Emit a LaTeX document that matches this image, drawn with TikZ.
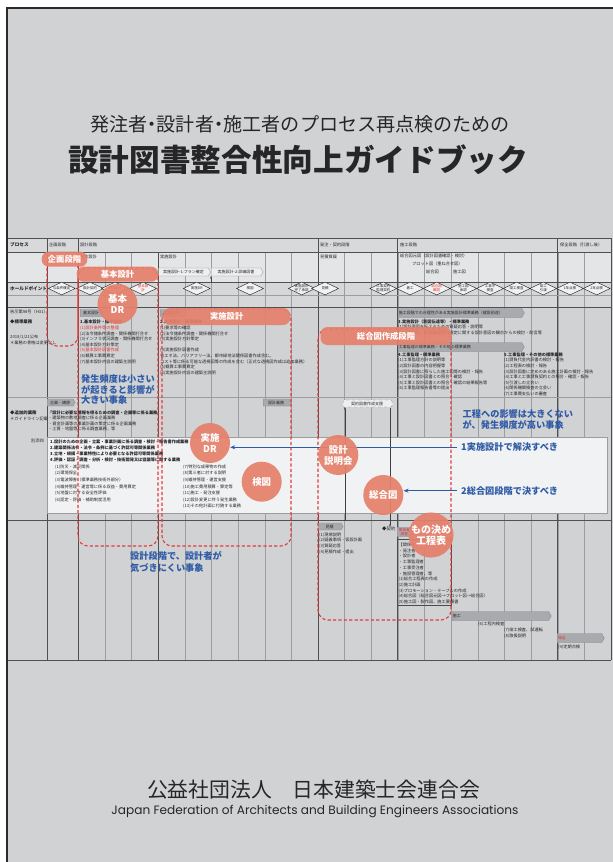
\documentclass[tikz,border=0pt]{standalone}
\usepackage{fontspec}
\usepackage{graphicx}
\setmainfont{Noto Sans CJK JP}
\newfontfamily\popf{Poppins}
\usetikzlibrary{shapes.geometric,shapes.symbols,arrows.meta}
\definecolor{bgc}{HTML}{D1D2D4}
\definecolor{framec}{HTML}{2A2A2C}
\definecolor{hdrc}{HTML}{D8D9DB}
\definecolor{rowc}{HTML}{E4E5E6}
\definecolor{holdc}{HTML}{D6D7D9}
\definecolor{gridc}{HTML}{9C9DA0}
\definecolor{majc}{HTML}{505052}
\definecolor{salmon}{HTML}{E5806B}
\definecolor{dred}{HTML}{E43A3C}
\definecolor{tred}{HTML}{E0342F}
\definecolor{bluec}{HTML}{2F5BA6}
\definecolor{tabg}{HTML}{A9AAAD}
\definecolor{tabd}{HTML}{88898C}
\definecolor{boxc}{HTML}{F1F2F3}
\definecolor{inkc}{HTML}{262628}
\newcommand\myfs[2]{\fontsize{#1}{#2}\selectfont}
\newcommand\ndot{\makebox[0.5em]{・}}
\newcommand\hp[4]{\node[dia] (#1) at (#2,288.5) {}; \node[dtx,text=#4] (#1t) at (#1) {#3};}
\begin{document}
\begin{tikzpicture}[x=1pt,y=-1pt,
 tx/.style={inner sep=0pt,anchor=west,font=\myfs{4.2}{5.6},text=inkc},
 blk/.style={inner sep=0pt,anchor=north west,align=left,font=\myfs{4.2}{5.6},text=inkc},
 tabbox/.style={shape=signal,signal to=east,signal pointer angle=120,fill=tabg,draw=tabd,line width=0.3pt,inner sep=0.8pt,anchor=west,minimum height=7pt,font=\myfs{4}{4.8},text=inkc},
 outtab/.style={tabbox,fill=rowc!60!white,draw=black!45},
 dia/.style={shape=diamond,draw=black!85,fill=rowc!50!white,line width=0.45pt,minimum width=27pt,minimum height=13pt,inner sep=0pt},
 dtx/.style={inner sep=0pt,align=center,font=\myfs{3.5}{4.2}},
 dbox/.style={draw=dred,line width=1.1pt,dash pattern=on 3.2pt off 2.2pt,rounded corners=10pt},
 lbl/.style={fill=salmon,fill opacity=0.92,text opacity=1,text=white,rounded corners=7pt,font=\myfs{8.3}{9}\bfseries,inner sep=0pt},
 circ/.style={circle,fill=salmon,fill opacity=0.93,text opacity=1,text=white,minimum size=40pt,inner sep=0pt,align=center,font=\myfs{9.4}{11}\bfseries},
 btx/.style={inner sep=0pt,text=bluec,font=\myfs{9.2}{10.8}\bfseries,align=left},
 barr/.style={draw=bluec,line width=0.8pt,-{Stealth[length=5pt,width=4pt]}},
 karr/.style={draw=black!75,line width=0.4pt,-{Stealth[length=2.5pt,width=2pt]}},
 gridl/.style={draw=gridc,line width=0.4pt},
 major/.style={draw=majc,line width=0.6pt}]
\useasboundingbox (0,0) rectangle (613,862);
\fill[white] (0,0) rectangle (613,862);
\fill[bgc] (7,7) rectangle (613,862);
\draw[framec,line width=2.4pt] (7.2,862) -- (7.2,8.2) -- (613,8.2);

% titles
\node[inner sep=0,text=inkc] (title1) at (300,124) {\resizebox{420pt}{!}{\myfs{19}{19}発注者\ndot 設計者\ndot 施工者のプロセス再点検のための}};
\node[inner sep=0,text=inkc] (title2) at (298,160) {\resizebox{460pt}{!}{\myfs{30}{30}\bfseries 設計図書整合性向上ガイドブック}};

% chart background
\fill[hdrc] (8,238) rectangle (611,252);
\fill[rowc] (8,252) rectangle (611,282);
\fill[holdc] (8,282) rectangle (611,307);
\foreach \i in {0,...,20} \draw[gridl] ({78.3+26.635*\i},252) -- ({78.3+26.635*\i},660);
\foreach \x in {47,78.3,318.3,397.7,557.7,611} \draw[major] (\x,238) -- (\x,660);
\draw[major] (158.3,252) -- (158.3,660);
\draw[majc,line width=0.9pt] (8,238) -- (611,238);
\draw[majc,line width=0.5pt] (8,252) -- (611,252);
\draw[majc,line width=0.5pt] (8,282) -- (611,282);
\draw[gridc,line width=0.4pt] (8,295) -- (611,295);
\draw[majc,line width=0.9pt] (8,307) -- (611,307);
\draw[gridc,line width=0.4pt] (8,397) -- (611,397);
\draw[majc,line width=0.9pt] (8,520) -- (611,520);
\draw[majc,line width=0.9pt] (8,660) -- (611,660);
\draw[fill=boxc,draw=gridc,line width=0.4pt] (47,437) rectangle (607,513);

% header row
\node[tx,font=\myfs{4.6}{5}\bfseries] (hpr) at (10,245) {プロセス};
\node[tx] (h1) at (49,245) {企画段階};
\node[tx] (h2) at (80,245) {設計段階};
\node[tx] (h3) at (320,245) {発注・契約段階};
\node[tx] (h4) at (400,245) {施工段階};
\node[tx] (h5) at (560,245) {保全段階（引渡し後）};

% row 2
\node[tx] (r1) at (80,256.5) {基本設計};
\node[tx] (r2) at (160,256.5) {実施設計};
\node[tx] (r3) at (320,256.5) {見積質疑};
\node[tx] (r4) at (400,256) {総合図元図（設計図書確認・検討）};
\node[tx] (r5) at (412,264) {プロット図（重ね合せ図）};
\node[tx] (r6) at (426,272) {総合図};
\node[tx] (r7) at (453,272) {施工図};
\node[outtab,minimum width=52pt,minimum height=8pt] (js1) at (158.5,272) {実施設計-1:プラン確定};
\node[outtab,minimum width=52pt,minimum height=8pt] (js2) at (211,272) {実施設計-2:詳細図書};
\coordinate (u211) at (211,282);
\draw[karr] (u211) -- (u211 |- js2.south);

% hold points
\node[tx,font=\myfs{4.6}{5}\bfseries] (hpl) at (10,288.5) {ホールドポイント};
\hp{d1}{61.7}{与条件確定}{inkc}
\hp{d2}{90}{設計契約}{inkc}
\hp{d3}{115}{基本DR}{inkc}
\hp{d4}{143}{基本設\\計}{tred}
\hp{d5}{196.7}{実施DR}{inkc}
\hp{d6}{250}{検図}{inkc}
\hp{d7}{301.7}{実施設計\\完了承認}{inkc}
\hp{d8}{325}{見積}{inkc}
\hp{d9}{383.3}{工事契約\\監理契約}{inkc}
\hp{d10}{410}{着工}{inkc}
\hp{d11}{436.7}{総合図\\確認}{tred}
\hp{d12}{463.3}{施工図\\承認}{inkc}
\hp{d13}{490}{工事中\\検査}{inkc}
\hp{d14}{516.7}{竣工検査}{inkc}
\hp{d15}{543.3}{竣工\\引渡}{inkc}
\hp{d16}{570}{1年点検}{inkc}
\hp{d17}{596.7}{2年点検}{inkc}

% left column
\node[tx] (l1) at (10,312) {告示第98号（H31）};
\node[tx,font=\myfs{4.4}{5}\bfseries] (l2) at (10,322) {◆標準業務};
\node[tx] (l3) at (10,337) {2019/1/21公布};
\node[tx] (l4) at (10,342.5) {＊業務の骨格は変更なし};
\node[tx,font=\myfs{4.4}{5}\bfseries] (l5) at (10,413) {◆追加的業務};
\node[tx] (l6) at (10,418.5) {＊ガイドライン記載};
\node[tx] (l7) at (31,441) {別添四};

% tabs
\node[tabbox,minimum width=24pt] (tb1) at (80,313) {基本設計};
\node[tabbox,minimum width=26pt] (tb2) at (160,313) {実施設計};
\node[tabbox,minimum width=28pt] (tb3) at (47,402.5) {企画・構想};
\node[tabbox,minimum width=28pt] (tb4) at (263,402.5) {設計業務};
\node[outtab,minimum width=50pt,dashed] (kei) at (343,403.5) {契約図書作成支援};
\node[tabbox,text width=122pt,align=left,minimum height=9pt] (tb5) at (398,313) {施工段階での合理性がある実施設計標準業務（建設前途）};
\node[tabbox,text width=122pt,align=left,minimum height=9pt] (tb6) at (398,347) {工事監理の標準業務・その他の標準業務};
\node[tabbox,minimum width=25pt] (tb7) at (318,526.5) {見積};
\node[tabbox,minimum width=17pt,text=tred,align=center,font=\myfs{3.6}{4.2}] (tb8) at (397,532) {関係者\\調整};
\node[tabbox,text width=95pt,align=left,minimum height=9pt] (tb9) at (452,616) {施工};
\node[tabbox,text width=43pt,align=left,minimum height=9pt,text=tred] (tb10) at (557,638) {保全};
\draw[black!70,line width=0.3pt] (397,539) rectangle (451,605);

% text blocks
\node[blk] (ba) at (80,320) {\textbf{1.基本設計・標準業務}\\
\textcolor{tred}{(1)設計条件等の整理}\\
(2)法令諸条件調査・関係機関打合せ\\
(3)インフラ状況調査・関係機関打合せ\\
(4)基本設計方針策定\\
\textcolor{tred}{(5)基本設計図書作成}\\
(6)概算工事費算定\\
(7)基本設計内容の建築主説明};
\node[blk] (bb) at (160,320) {\textbf{2.実施設計・標準業務}\\
(1)要求等の確認\\
(2)法令諸条件調査・関係機関打合せ\\
(3)実施設計方針策定\\[5.6pt]
(4)実施設計図書作成\\
省エネ法、バリアフリー法、都市緑地法関係図書作成含む。\\
コスト等に係る可能な透視図等の作成を含む（正式な透視図作成は追加業務）\\
(5)概算工事費算定\\
(6)実施設計内容の建築主説明};
\node[blk] (bc) at (398,319.5) {\textbf{3.実施設計（意図伝達等）・標準業務}\\
(1)設計意図を伝えるための質疑応答・説明等\\
(2)工事材料、設備機器等の選定に関する設計意図の観点からの検討・助言等};
\node[blk] (bd) at (398,352.5) {\textbf{4.工事監理・標準業務}\\
(1)工事監理方針の説明等\\
(2)設計図書の内容把握等\\
(3)設計図書に照らした施工図等の検討・報告\\
(4)工事と設計図書との照合・確認\\
(5)工事と設計図書との照合・確認の結果報告等\\
(6)工事監理報告書等の提出};
\node[blk] (be) at (504,352.5) {\textbf{5.工事監理・その他の標準業務}\\
(1)請負代金内訳書の検討・報告\\
(2)工程表の検討・報告\\
(3)設計図書に定めのある施工計画の検討・報告\\
(4)工事と工事請負契約との照合・確認・報告\\
(5)引渡しの立会い\\
(6)関係機関検査の立会い\\
(7)工事費支払いの審査};
\node[blk] (bf) at (48,410.3) {\textbf{「設計に必要な情報を得るための調査・企画等に係る業務」}\\
・建築物の敷地調査に係る企画業務\\
・資金計画等の事業計画の策定に係る企画業務\\
・土質・地盤等に係る調査業務，等};
\node[blk,font=\myfs{4.2}{6}\bfseries] (bg) at (50,439.3) {1.設計のための企画・立案・事業計画に係る調査・検討・報告書作成業務\\
2.建築関係法令・法令・条例に基づく許認可等関係業務\\
3.立地・規模・事業特性により必要となる許認可等関係業務\\
4.評価・認証・調査・分析・検討・技術開発又は協議等に関する業務};
\node[blk,font=\myfs{4.2}{6.6}] (bg1) at (55,464.5) {(1)防災・減災関係\\
(2)環境保全\\
(3)電波障害（標準業務技術外部分）\\
(4)維持管理・運営等に係る収益・費用算定\\
(5)地盤に対する安全性評価\\
(6)認定・評価・補助制度活用};
\node[blk,font=\myfs{4.2}{6.6}] (bg2) at (183,464.5) {(7)特別な成果物の作成\\
(8)第三者に対する説明\\
(9)維持管理・運営支援\\
(10)施工費用積算・算定等\\
(11)施工・発注支援\\
(12)設計変更に伴う発生業務\\
(13)その他計画に付随する業務};
\node[blk] (bh) at (319,532.5) {(1)現場説明\\
(2)疑義事項・仮設計画\\
(3)質疑応答\\
(4)見積作成・提出};
\node[blk,font=\myfs{4.2}{5.7}] (bi) at (398.5,542.8) {【関係者】\\
・発注者\\
・設計者\\
・工事監理者\\
・工事受注者\\
・施設管理者、等\\
(1)総合工程表の作成\\
(2)施工計画\\
(3)プロモーション・テーブルの作成\\
(4)総合図（総合図元図→プロット図→総合図）\\
(5)施工図・製作図、施工要領書};
\node[tx] (bj1) at (478,624.5) {(6)工程内検査};
\node[tx] (bj2) at (504,630) {(7)竣工検査、試運転};
\node[tx] (bj3) at (504,636) {(8)取扱説明};
\node[tx] (bj4) at (558,647) {(9)定期点検};
\node[tx,font=\myfs{4.4}{5}] (kyk) at (382,529) {◆契約};

% connectors from contract support tab
\coordinate (c345) at (345,521);
\draw[karr] (c345) -- (c345 |- kei.south);
\coordinate (c390) at (390,407.5);
\draw[karr] (c390) -- (c390 |- kyk.north);

% overlays: dashed zones
\draw[dbox] (47,258) rectangle (78,346);
\draw[dbox] (78,268) rectangle (158,546);
\draw[dbox] (162,309) rectangle (291,546);
\draw[dbox] (318,329) rectangle (451,620);
\node[lbl,minimum width=45.6pt,minimum height=15pt] (lk) at (64.5,259.2) {企画段階};
\node[lbl,minimum width=81.6pt,minimum height=15pt] (lb) at (117.5,274.2) {基本設計};
\node[lbl,minimum width=127pt,minimum height=17pt] (lj) at (226.7,316.5) {実施設計};
\node[lbl,minimum width=131pt,minimum height=18pt] (ls) at (386,336) {総合図作成段階};

% blue texts and arrows
\node[btx,anchor=west] (b1) at (461,447.3) {1実施設計で解決すべき};
\node[btx,anchor=west] (b2) at (461,490.7) {2総合図段階で決すべき};
\node[circ] (jdr) at (210,443) {実施\\DR};
\node[circ] (sgz) at (383.3,495) {総合図};
\draw[barr,shorten <=4pt] (b1.west) -- (b1.west -| jdr.east);
\draw[barr,shorten <=4pt] (b2.west) -- (b2.west -| sgz.east);

% circles
\node[circ] (kdr) at (117.5,304) {基本\\DR};
\node[circ] (ken) at (261.7,481.7) {検図};
\node[circ] (setu) at (338.3,455) {設計\\説明会};
\node[circ,font=\myfs{10}{11.5}\bfseries] (mono) at (431,535) {もの決め\\工程表};

\node[btx,anchor=north west,font=\myfs{9.2}{10.5}\bfseries] (bt1) at (81,374.5) {発生頻度は小さい\\が起きると影響が\\大きい事象};
\node[btx,anchor=north west] (bt2) at (462.5,409.5) {工程への影響は大きくない\\が、発生頻度が高い事象};
\node[btx,anchor=north west,font=\myfs{9.2}{11.4}\bfseries] (bt3) at (130,551.5) {設計段階で、設計者が\\気づきにくい事象};

% footer
\node[inner sep=0,text=inkc] (org) at (313.5,790) {\resizebox{333pt}{!}{\myfs{21}{21}公益社団法人　日本建築士会連合会}};
\node[inner sep=0,text=inkc] (eng) at (315,811) {\resizebox{407pt}{!}{\popf\myfs{10.5}{11}Japan Federation of Architects and Building Engineers Associations}};
\end{tikzpicture}
\end{document}
